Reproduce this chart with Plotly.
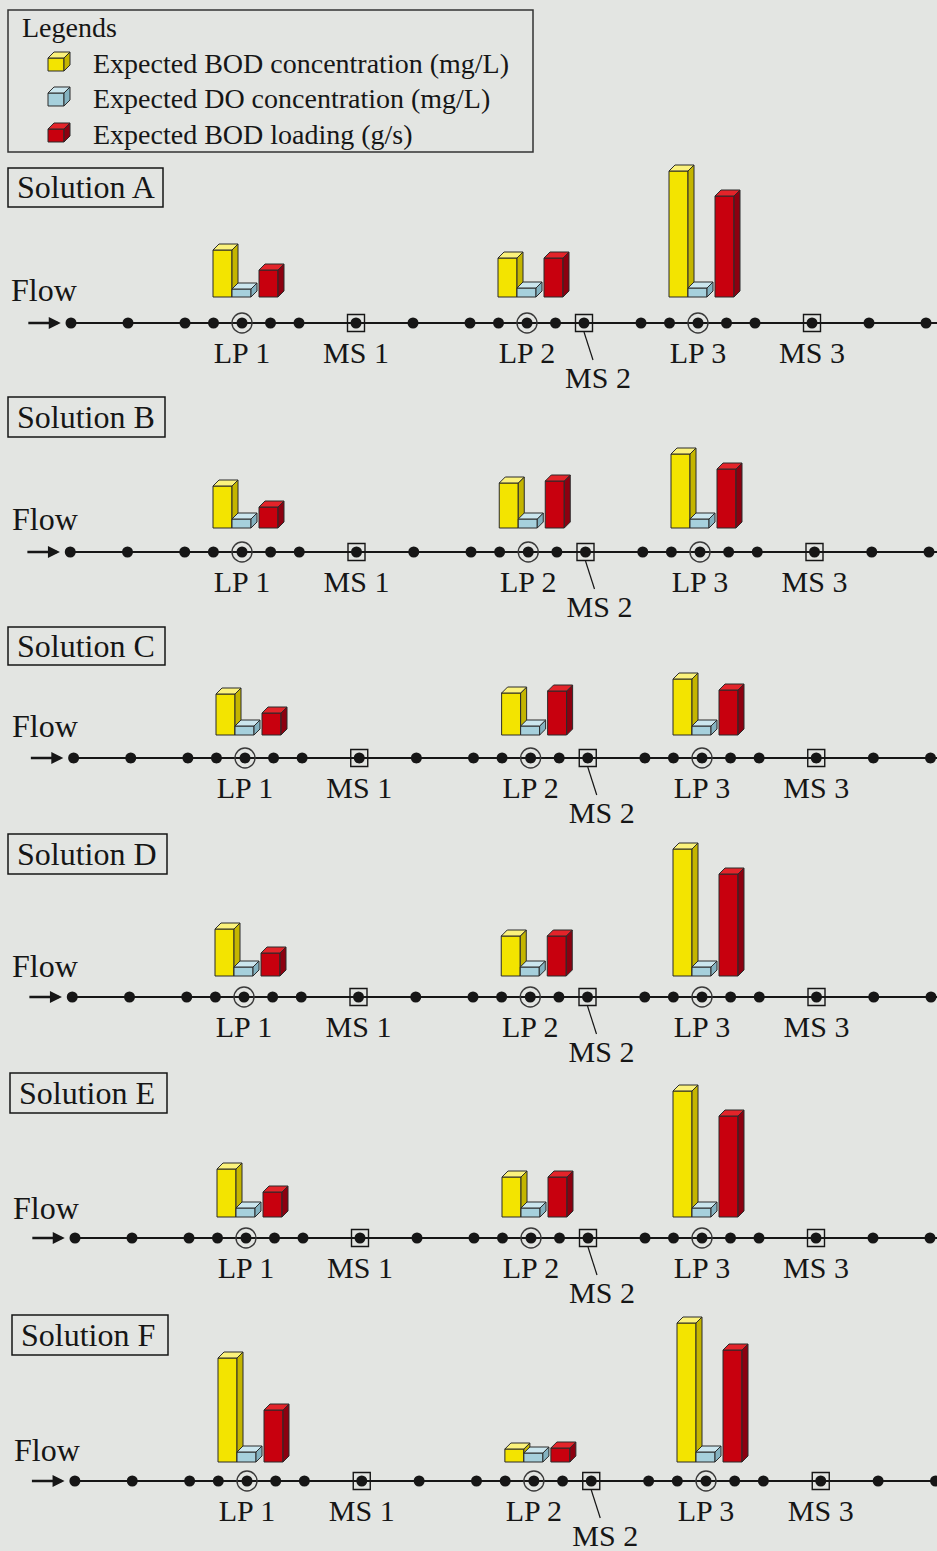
import plotly.graph_objects as go

W, H = 937, 1551
FONT = "Liberation Serif, Times New Roman, serif"
BG = "#e3e5e2"
INK = "#161616"

# ---------------- data ----------------
solution_names = ["Solution A", "Solution B", "Solution C", "Solution D", "Solution E", "Solution F"]
lp_labels = ["LP 1", "LP 2", "LP 3"]
ms_labels = ["MS 1", "MS 2", "MS 3"]
legend_labels = ["Expected BOD concentration (mg/L)",
                 "Expected DO concentration (mg/L)",
                 "Expected BOD loading (g/s)"]

# expected BOD concentration (mg/L) at LP1, LP2, LP3 for solutions A..F
bod_concentration = [
    [4.7, 3.9, 12.6],
    [4.2, 4.5, 7.4],
    [4.1, 4.2, 5.6],
    [4.7, 4.0, 12.7],
    [4.8, 4.0, 12.6],
    [10.4, 1.3, 13.9],
]
# expected DO concentration (mg/L)
do_concentration = [
    [0.8, 0.9, 0.9],
    [0.9, 0.9, 0.9],
    [0.9, 0.9, 0.9],
    [0.9, 0.9, 0.9],
    [0.9, 0.9, 0.9],
    [1.0, 0.9, 1.0],
]
# expected BOD loading (g/s)
bod_loading = [
    [2.7, 3.9, 10.1],
    [2.1, 4.7, 5.9],
    [2.2, 4.4, 4.5],
    [2.3, 4.0, 10.2],
    [2.5, 4.0, 10.1],
    [5.2, 1.4, 11.2],
]

# river nodes (position index along the river)
node_pos = [0, 2, 4, 5, 6, 7, 8, 10, 12, 14, 15, 16, 17, 18, 20, 21, 22, 23, 24, 26, 28, 30]
lp_pos = [6, 16, 22]
ms_pos = [10, 18, 26]

# ---------------- layout geometry (pixels) ----------------
line_px = [323, 552, 758, 997, 1238, 1481]
lp1_px = [242, 242, 245, 244, 246, 247]
lp3_px = [698, 700, 702, 702, 702, 706]
base_gap_px = [26, 24, 23, 21, 21, 19]
title_box_px = [(8, 163, 168, 207), (8, 165, 397, 437), (8, 165, 627, 665),
                (8, 167, 834, 874), (10, 167, 1073, 1113), (12, 168, 1315, 1355)]
flow_px = [(9, 290), (10, 519), (10, 726), (10, 966), (11, 1208), (12, 1450)]
PX_PER_UNIT = 10.0
DEPTH = 6.0

series_style = [
    (bod_concentration, -29, -10, ("#f3e400", "#fbf27c", "#c4b500")),
    (do_concentration, -10, 9, ("#a6d0dc", "#cbe6ee", "#84b2c0")),
    (bod_loading, 17, 36, ("#c8000e", "#e3242a", "#8c0010")),
]


def px_x(x):
    return x / W


def px_y(y):
    return 1 - y / H


fig = go.Figure()
layout_axes = {}

for p in range(len(solution_names)):
    sfx = "" if p == 0 else str(p + 1)
    xa, ya = "x" + sfx, "y" + sfx
    s = (lp3_px[p] - lp1_px[p]) / (lp_pos[2] - lp_pos[0])
    off = lp1_px[p] - lp_pos[0] * s
    gap = base_gap_px[p]
    line = line_px[p]
    river = -gap / PX_PER_UNIT
    du = DEPTH / s
    dv = DEPTH / PX_PER_UNIT

    layout_axes["xaxis" + sfx] = dict(domain=[0, 1], range=[-off / s, (W - off) / s],
                                      visible=False, anchor=ya, fixedrange=True)
    layout_axes["yaxis" + sfx] = dict(domain=[px_y(line + 68), px_y(line - 185)],
                                      range=[(-gap - 68) / PX_PER_UNIT, (185 - gap) / PX_PER_UNIT],
                                      visible=False, anchor=xa, fixedrange=True)

    # river line
    fig.add_trace(go.Scatter(x=[node_pos[0], node_pos[-1] + 3], y=[river, river], mode="lines",
                             line=dict(color=INK, width=2), xaxis=xa, yaxis=ya, hoverinfo="skip"))
    # flow arrow
    fig.add_annotation(x=node_pos[0] - 0.36, y=river, ax=node_pos[0] - 1.55, ay=river,
                       xref=xa, yref=ya, axref=xa, ayref=ya, showarrow=True,
                       arrowhead=2, arrowsize=1.0, arrowwidth=2.4, arrowcolor=INK, text="")
    # LP rings
    fig.add_trace(go.Scatter(x=lp_pos, y=[river] * 3, mode="markers",
                             marker=dict(symbol="circle-open", size=20, color="#3a3a3a",
                                         line=dict(width=1.4, color="#3a3a3a")),
                             xaxis=xa, yaxis=ya, hoverinfo="skip", cliponaxis=False))
    # MS squares
    fig.add_trace(go.Scatter(x=ms_pos, y=[river] * 3, mode="markers",
                             marker=dict(symbol="square-open", size=17, color=INK,
                                         line=dict(width=1.4, color=INK)),
                             xaxis=xa, yaxis=ya, hoverinfo="skip", cliponaxis=False))
    # nodes
    fig.add_trace(go.Scatter(x=node_pos, y=[river] * len(node_pos), mode="markers",
                             marker=dict(symbol="circle", size=11, color=INK),
                             xaxis=xa, yaxis=ya, hoverinfo="skip", cliponaxis=False))
    # MS 2 leader line
    fig.add_trace(go.Scatter(x=[ms_pos[1], ms_pos[1] + 9 / s],
                             y=[river - 0.9, river - 3.7], mode="lines",
                             line=dict(color=INK, width=1.2), xaxis=xa, yaxis=ya,
                             hoverinfo="skip"))
    # labels
    lab_x = lp_pos + [ms_pos[0], ms_pos[1] + 14 / s, ms_pos[2]]
    lab_y = [river - 3.2] * 3 + [river - 3.2, river - 5.7, river - 3.2]
    fig.add_trace(go.Scatter(x=lab_x, y=lab_y, mode="text", text=lp_labels + ms_labels,
                             textfont=dict(family=FONT, size=30, color=INK),
                             textposition="middle center", xaxis=xa, yaxis=ya,
                             hoverinfo="skip", cliponaxis=False))

    # 3D bars
    for vals, x0, x1, (c_front, c_top, c_side) in series_style:
        fx, fy, tx, ty, sx, sy = [], [], [], [], [], []
        for i, lp in enumerate(lp_pos):
            v = vals[p][i]
            a = lp + x0 / s
            b = lp + x1 / s
            fx += [a, b, b, a, a, None]
            fy += [0, 0, v, v, 0, None]
            tx += [a, a + du, b + du, b, a, None]
            ty += [v, v + dv, v + dv, v, v, None]
            sx += [b, b + du, b + du, b, b, None]
            sy += [0, dv, v + dv, v, 0, None]
        for xs, ys, col in ((fx, fy, c_front), (sx, sy, c_side), (tx, ty, c_top)):
            fig.add_trace(go.Scatter(x=xs, y=ys, mode="lines", fill="toself", fillcolor=col,
                                     line=dict(color="#2b2b2b", width=1),
                                     xaxis=xa, yaxis=ya, hoverinfo="skip"))

    # title box and text
    bx0, bx1, by0, by1 = title_box_px[p]
    fig.add_shape(type="rect", xref="paper", yref="paper",
                  x0=px_x(bx0), x1=px_x(bx1), y0=px_y(by1), y1=px_y(by0),
                  line=dict(color=INK, width=1.5))
    fig.add_annotation(xref="paper", yref="paper", x=px_x(bx0 + 7), y=px_y((by0 + by1) / 2),
                       xanchor="left", yanchor="middle", showarrow=False,
                       text=solution_names[p], font=dict(family=FONT, size=32, color=INK))
    fx_, fy_ = flow_px[p]
    fig.add_annotation(xref="paper", yref="paper", x=px_x(fx_), y=px_y(fy_),
                       xanchor="left", yanchor="middle", showarrow=False,
                       text="Flow", font=dict(family=FONT, size=32, color=INK))

# ---------------- legend box ----------------
fig.add_shape(type="rect", xref="paper", yref="paper",
              x0=px_x(8), x1=px_x(533), y0=px_y(152), y1=px_y(10),
              line=dict(color="#333", width=1.5))
fig.add_annotation(xref="paper", yref="paper", x=px_x(20), y=px_y(27),
                   xanchor="left", yanchor="middle", showarrow=False,
                   text="Legends", font=dict(family=FONT, size=28, color=INK))
row_y = [63, 98, 134]
for (_, _, _, (c_front, c_top, c_side)), lab, cy in zip(series_style, legend_labels, row_y):
    a, b = 48, 64
    top, bot = cy - 5, cy + 8
    d = 6

    def P(pts):
        return "M " + " L ".join(f"{px_x(x):.5f},{px_y(y):.5f}" for x, y in pts) + " Z"

    fig.add_shape(type="path", xref="paper", yref="paper",
                  path=P([(a, bot), (b, bot), (b, top), (a, top)]),
                  fillcolor=c_front, line=dict(color="#2b2b2b", width=1))
    fig.add_shape(type="path", xref="paper", yref="paper",
                  path=P([(a, top), (a + d, top - d), (b + d, top - d), (b, top)]),
                  fillcolor=c_top, line=dict(color="#2b2b2b", width=1))
    fig.add_shape(type="path", xref="paper", yref="paper",
                  path=P([(b, bot), (b + d, bot - d), (b + d, top - d), (b, top)]),
                  fillcolor=c_side, line=dict(color="#2b2b2b", width=1))
    fig.add_annotation(xref="paper", yref="paper", x=px_x(91), y=px_y(cy),
                       xanchor="left", yanchor="middle", showarrow=False,
                       text=lab, font=dict(family=FONT, size=28, color=INK))

fig.update_layout(width=W, height=H, margin=dict(l=0, r=0, t=0, b=0),
                  paper_bgcolor=BG, plot_bgcolor="rgba(0,0,0,0)", showlegend=False,
                  **layout_axes)

fig.write_html("out.html",
               config={"displayModeBar": False, "staticPlot": True},
               post_script="document.body.style.margin='0';"
                           "document.body.style.background='" + BG + "';")
